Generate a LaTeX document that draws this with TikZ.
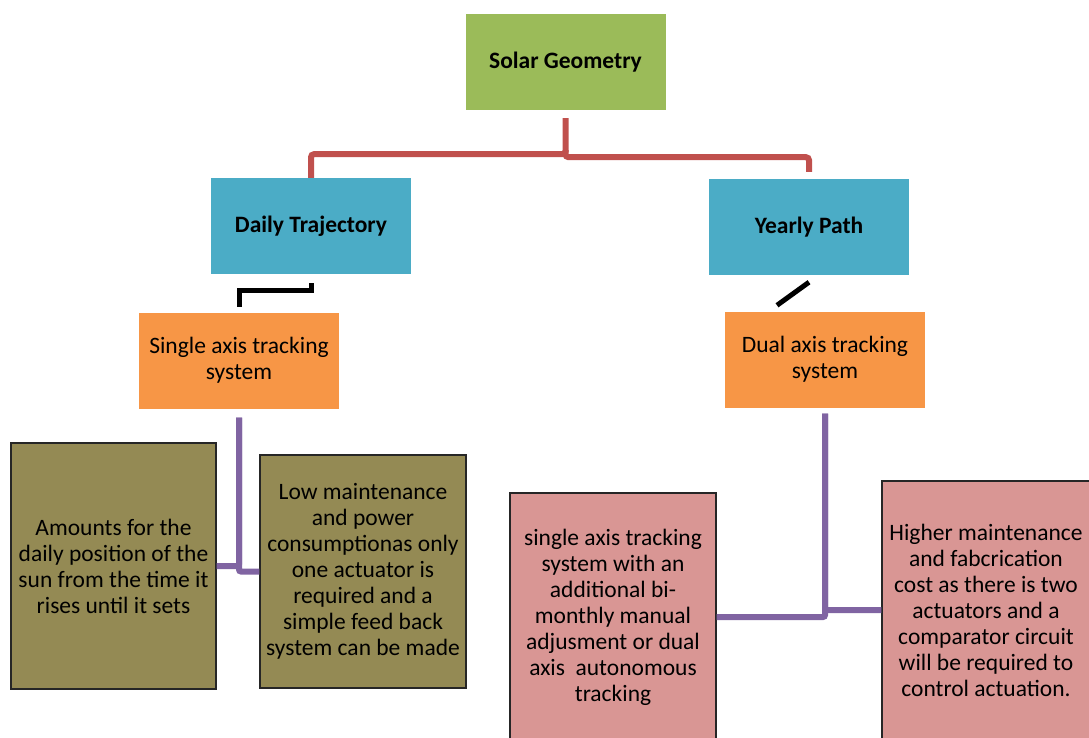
\documentclass[tikz,border=0pt]{standalone}
\usepackage{fontspec}
\setmainfont{Carlito}
\usepackage{tikz}
\usetikzlibrary{positioning}
\definecolor{geogreen}{HTML}{9BBB59}
\definecolor{pathblue}{HTML}{4BACC6}
\definecolor{trackorange}{HTML}{F79646}
\definecolor{noteolive}{HTML}{948A54}
\definecolor{notepink}{HTML}{D99694}
\definecolor{linkred}{HTML}{C0504D}
\definecolor{linkpurple}{HTML}{8064A2}
\tikzstyle{block}=[rectangle, align=center, inner sep=0pt, minimum width=200pt, minimum height=96pt, font=\fontsize{23.5}{26}\selectfont]
\tikzstyle{topic}=[block, fill=geogreen, font=\fontsize{23.5}{26}\selectfont\bfseries]
\tikzstyle{motion}=[block, fill=pathblue, font=\fontsize{23.5}{26}\selectfont\bfseries]
\tikzstyle{tracker}=[block, fill=trackorange]
\tikzstyle{note}=[block, draw=black!85, line width=1.2pt]
\tikzstyle{redlink}=[draw=linkred, line width=6pt, rounded corners=3pt]
\tikzstyle{blacklink}=[draw=black, line width=5pt]
\tikzstyle{purplelink}=[draw=linkpurple, line width=6pt, rounded corners=2pt]

\begin{document}
\begin{tikzpicture}[x=1pt, y=-1pt]
   \useasboundingbox (0,0) rectangle (1089,738);

   \node[topic] (geo) at (565.5,62) {Solar Geometry};
	\node[motion] (daily) at (311,226) {Daily Trajectory};
	\node[motion] (yearly) at (809,227) {Yearly Path};

	\node[tracker] (single) at (239,360.5) {Single axis tracking\\system};
	\node[tracker] (dual) at (825,359.5) {Dual axis tracking\\system};

	\node[note, fill=noteolive, minimum width=205pt, minimum height=246pt] (amounts) at (113.5,566)
	   {Amounts for the\\daily position of the\\sun from the time it\\rises until it sets};
	\node[note, fill=noteolive, minimum width=206pt, minimum height=233pt] (lowmaint) at (363,571.5)
	   {Low maintenance\\and power\\consumptionas only\\one actuator is\\required and a\\simple feed back\\system can be made};
	\node[note, fill=notepink, minimum width=206pt, minimum height=248pt] (bimonth) at (613,617)
	   {single axis tracking\\system with an\\additional bi-\\monthly manual\\adjusment or dual\\axis\ \ autonomous\\tracking};
	\node[note, fill=notepink, minimum width=208pt, minimum height=258pt] (higher) at (986,610)
	   {Higher maintenance\\and fabcrication\\cost as there is two\\actuators and a\\comparator circuit\\will be required to\\control actuation.};

   \draw[redlink] ([yshift=-8pt]geo.south) -- ++(0,36) -| (daily.north);
   \draw[redlink] ([yshift=-40pt]geo.south) -- ++(0,7) -| ([yshift=7pt]yearly.north);

   \draw[blacklink] ([yshift=-9pt]daily.south) -- ++(0,7) -| ([yshift=5pt]single.north);
   \draw[blacklink] ([yshift=-7pt]yearly.south) -- ([xshift=-48pt,yshift=6pt]dual.north);

   \draw[purplelink] ([yshift=-9pt]single.south) |- (amounts.east);
   \draw[purplelink] ([yshift=-9pt]single.south) |- (lowmaint.west);
   \draw[purplelink] ([yshift=-6pt]dual.south) |- (bimonth.east);
   \draw[purplelink] ([yshift=-6pt]dual.south) |- (higher.west);
\end{tikzpicture}
\end{document}
